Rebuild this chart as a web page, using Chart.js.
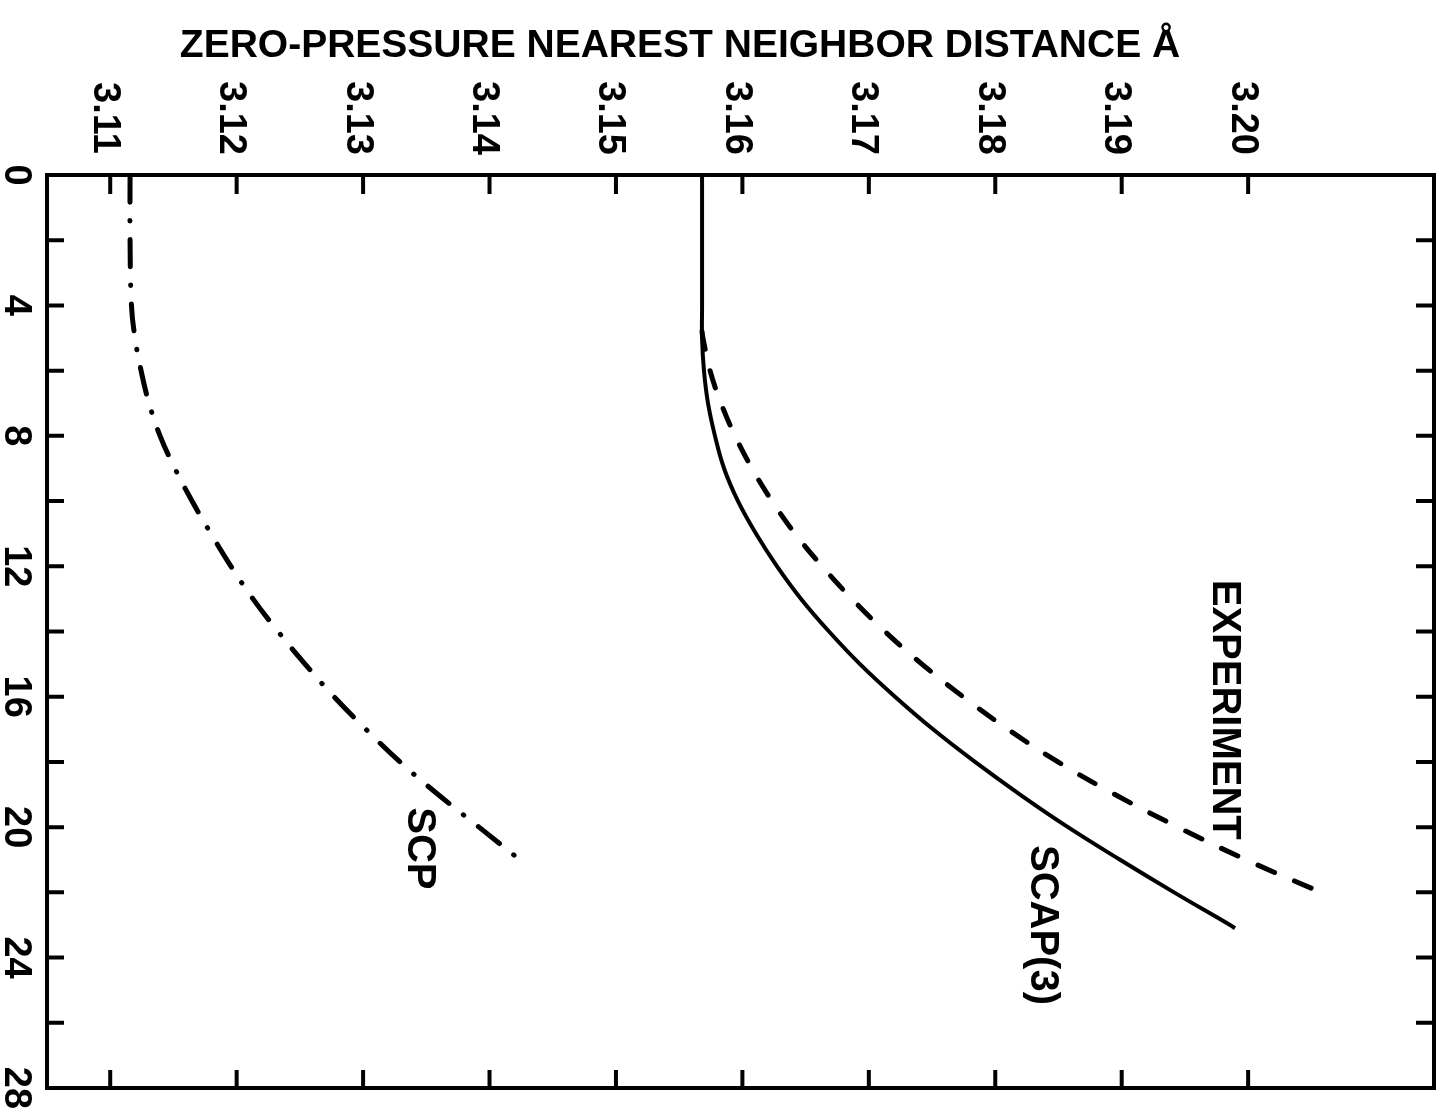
<!DOCTYPE html>
<html>
<head>
<meta charset="utf-8">
<script src="https://cdn.jsdelivr.net/npm/chart.js@4.4.1/dist/chart.umd.min.js"></script>
<style>
  html, body { margin: 0; padding: 0; background: #fff; }
  #wrap { width: 1447px; height: 1109px; position: relative; }
</style>
</head>
<body>
<div id="wrap"><canvas id="chart"></canvas></div>
<script>
// temperature (K) runs down the side, nearest neighbour distance (Å) across the top

// SCAP(3) - solid
const tempScap = [0, 2, 4, 5, 6, 7, 8, 9, 10, 11, 12, 13, 14, 15, 16, 17, 18, 19, 20, 21, 22, 23, 23.1];
const distScap = [3.15681, 3.15681, 3.15681, 3.15681, 3.15696, 3.15728, 3.15783, 3.15855, 3.15965, 3.16108,
                  3.16274, 3.16464, 3.16685, 3.16930, 3.17207, 3.17508, 3.17840, 3.18196, 3.18575, 3.18987,
                  3.19414, 3.19857, 3.19896];

// experiment - dashed
const tempExp = [4.8, 5, 6, 7, 8, 9, 10, 11, 12, 13, 14, 15, 16, 17, 18, 19, 20, 21, 22];
const distExp = [3.15681, 3.15688, 3.15744, 3.15831, 3.15942, 3.16076, 3.16234, 3.16416, 3.16630, 3.16867,
                 3.17128, 3.17420, 3.17745, 3.18101, 3.18496, 3.18947, 3.19445, 3.19983, 3.20576];

// SCP - dash-dot
const tempScp = [0, 2, 4, 5, 6, 7, 8, 9, 10, 11, 12, 13, 14, 15, 16, 17, 18, 19, 20, 21, 21.2];
const distScp = [3.11157, 3.11157, 3.11168, 3.11196, 3.11244, 3.11307, 3.11394, 3.11512, 3.11647, 3.11797,
                 3.11955, 3.12129, 3.12327, 3.12541, 3.12770, 3.13023, 3.13292, 3.13593, 3.13917, 3.14241,
                 3.14312];

const distTicks = [3.11, 3.12, 3.13, 3.14, 3.15, 3.16, 3.17, 3.18, 3.19, 3.20];
const distTickLabels = ['3.11', '3.12', '3.13', '3.14', '3.15', '3.16', '3.17', '3.18', '3.19', '3.20'];
const tempTicks = [0, 4, 8, 12, 16, 20, 24, 28];
const tempTickLabels = ['0', '4', '8', '12', '16', '20', '24', '28'];
const tempMinorTicks = [2, 6, 10, 14, 18, 22, 26];

const TITLE = 'ZERO-PRESSURE NEAREST NEIGHBOR DISTANCE Å';
const FONT = 'bold 38px "Liberation Sans", Arial, sans-serif';
const LABEL_FONT = 'bold 40px "Liberation Sans", Arial, sans-serif';
const CAP = 27;

const pts = (ts, ds) => ts.map((t, i) => ({ x: ds[i], y: t }));

// text turned a quarter turn clockwise, centred on (cx, cy)
function vText(ctx, s, cx, cy) {
  ctx.save();
  ctx.translate(cx - CAP / 2, cy);
  ctx.rotate(Math.PI / 2);
  ctx.textAlign = 'center';
  ctx.textBaseline = 'alphabetic';
  ctx.fillText(s, 0, 0);
  ctx.restore();
}

const framePlugin = {
  id: 'frame',
  afterDatasetsDraw(chart) {
    const { ctx, chartArea: a, scales: { x, y } } = chart;
    ctx.save();
    ctx.strokeStyle = '#000';
    ctx.fillStyle = '#000';
    ctx.lineWidth = 4;
    ctx.strokeRect(a.left, a.top, a.right - a.left, a.bottom - a.top);

    // inward ticks on all four sides
    ctx.beginPath();
    distTicks.forEach(v => {
      const px = x.getPixelForValue(v);
      ctx.moveTo(px, a.top); ctx.lineTo(px, a.top + 19);
      ctx.moveTo(px, a.bottom); ctx.lineTo(px, a.bottom - 18);
    });
    tempTicks.concat(tempMinorTicks).forEach(v => {
      if (v <= 0 || v >= 28) return;
      const py = y.getPixelForValue(v);
      ctx.moveTo(a.left, py); ctx.lineTo(a.left + 17, py);
      ctx.moveTo(a.right, py); ctx.lineTo(a.right - 18, py);
    });
    ctx.stroke();

    ctx.font = FONT;
    distTicks.forEach((v, i) => vText(ctx, distTickLabels[i], x.getPixelForValue(v) - 3, 118));
    tempTicks.forEach((v, i) => vText(ctx, tempTickLabels[i], 18, y.getPixelForValue(v)));

    // curve labels
    ctx.font = LABEL_FONT;
    vText(ctx, 'SCP', x.getPixelForValue(3.1346), y.getPixelForValue(20.65));
    vText(ctx, 'SCAP(3)', x.getPixelForValue(3.1839), y.getPixelForValue(23.0));
    vText(ctx, 'EXPERIMENT', x.getPixelForValue(3.1983), y.getPixelForValue(16.4));

    ctx.font = 'bold 39px "Liberation Sans", Arial, sans-serif';
    ctx.textAlign = 'center';
    ctx.textBaseline = 'alphabetic';
    ctx.fillText(TITLE, 680, 57);
    ctx.restore();
  }
};

new Chart(document.getElementById('chart'), {
  type: 'line',
  data: {
    datasets: [
      { label: 'SCAP(3)', data: pts(tempScap, distScap), borderColor: '#000', borderWidth: 4 },
      { label: 'EXPERIMENT', data: pts(tempExp, distExp), borderColor: '#000', borderWidth: 5,
        borderDash: [18, 22], borderCapStyle: 'round' },
      { label: 'SCP', data: pts(tempScp, distScp), borderColor: '#000', borderWidth: 5,
        borderDash: [27, 18.5, 0.5, 18.5], borderCapStyle: 'round' }
    ]
  },
  options: {
    indexAxis: 'y',
    responsive: true,
    maintainAspectRatio: false,
    devicePixelRatio: 1,
    animation: false,
    events: [],
    layout: { padding: { left: 47, top: 175, right: 13, bottom: 21 } },
    elements: {
      point: { radius: 0 },
      line: { tension: 0.4, fill: false }
    },
    plugins: { legend: { display: false }, tooltip: { enabled: false } },
    scales: {
      x: { type: 'linear', min: 3.1050, max: 3.2147, display: false },
      y: { type: 'linear', min: 0, max: 28, reverse: true, display: false }
    }
  },
  plugins: [framePlugin]
});
</script>
</body>
</html>
